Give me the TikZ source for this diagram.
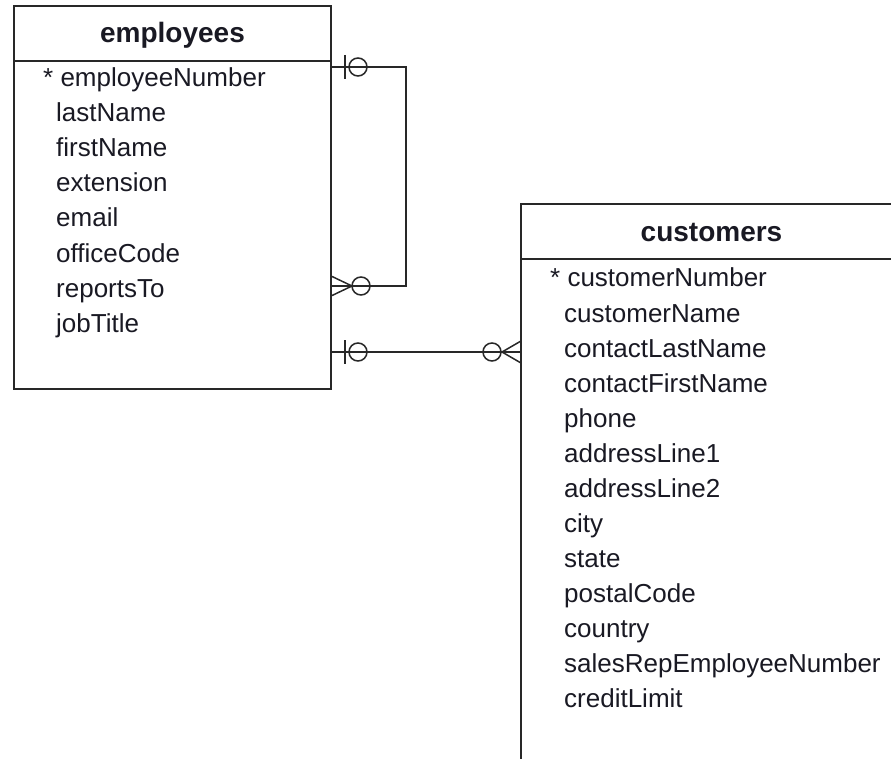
\documentclass[tikz,border=0pt]{standalone}
\usepackage{fontspec}
\setmainfont{Liberation Sans}
\usetikzlibrary{positioning, calc}
\definecolor{lineGray}{RGB}{40, 40, 40}
\definecolor{textInk}{RGB}{25, 25, 35}

\begin{document}
\begin{tikzpicture}[x=1pt, y=-1pt,
    table/.style={draw=lineGray, line width=1.5pt, inner sep=0pt, outer sep=0pt, anchor=north west},
    title/.style={font=\fontsize{28}{32}\selectfont\bfseries, anchor=base, inner sep=0pt, text=textInk},
    field/.style={font=\fontsize{26}{30}\selectfont, anchor=base west, inner sep=0pt, text=textInk},
    rel/.style={draw=lineGray, line width=1.5pt}]

    \clip (0,0) rectangle (891,759);

    % Tables
    \node[table, minimum width=317pt, minimum height=383pt] (emp) at (14,6) {};
    \node[table, minimum width=381pt, minimum height=620pt] (cust) at (521,204) {};
    \draw[rel] (emp.west |- 0,61) -- (emp.east |- 0,61);
    \draw[rel] (cust.west |- 0,259) -- (cust.east |- 0,259);

    \node[title] (empTitle) at (emp.north |- 0,43) {employees};
    \node[title] (custTitle) at (cust.north |- 0,242) {customers};

    % Fields
    \node[field] (emp-0) at (43,87) {* employeeNumber};
    \foreach \field [count=\k] in {lastName, firstName, extension, email,
        officeCode, reportsTo, jobTitle} {
        \node[field] (emp-\k) at (56, 87+35*\k) {\field};
    }
    \node[field] (cust-0) at (550,287) {* customerNumber};
    \foreach \field [count=\k] in {customerName, contactLastName, contactFirstName,
        phone, addressLine1, addressLine2, city, state, postalCode, country,
        salesRepEmployeeNumber, creditLimit} {
        \node[field] (cust-\k) at (564, 287+35*\k) {\field};
    }

    % reportsTo -> employeeNumber
    \coordinate (selfOne) at (emp.east |- 0,67);
    \coordinate (selfMany) at (emp.east |- 0,286);
    \draw[rel] (selfOne) -- ++(75,0) |- (selfMany);
    \draw[rel] ($(selfOne)+(14,-12)$) -- ++(0,24);
    \draw[rel] ($(selfOne)+(27,0)$) circle (9pt);
    \draw[rel] ($(selfMany)+(0,-10)$) -- ++(21,10) -- ++(-21,10);
    \draw[rel] ($(selfMany)+(30,0)$) circle (9pt);

    % employees -> customers
    \coordinate (repOne) at (emp.east |- 0,352);
    \coordinate (repMany) at (cust.west |- 0,352);
    \draw[rel] (repOne) -- (repMany);
    \draw[rel] ($(repOne)+(14,-12)$) -- ++(0,24);
    \draw[rel] ($(repOne)+(27,0)$) circle (9pt);
    \draw[rel] ($(repMany)+(0,-11)$) -- ++(-19,11) -- ++(19,11);
    \draw[rel] ($(repMany)+(-29,0)$) circle (9pt);
\end{tikzpicture}
\end{document}
